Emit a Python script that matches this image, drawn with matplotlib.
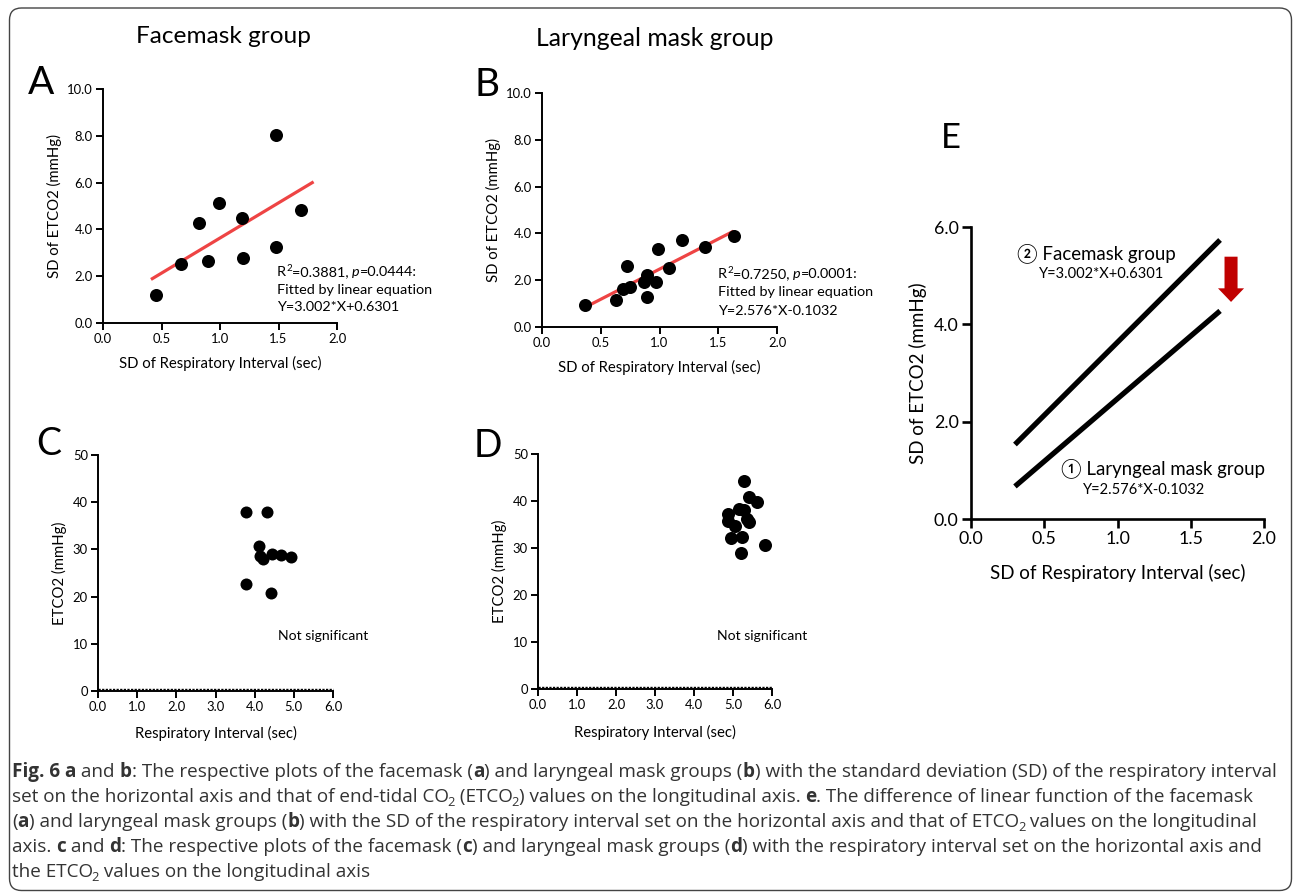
import matplotlib
matplotlib.use("Agg")
import matplotlib.pyplot as plt
from matplotlib.patches import FancyBboxPatch
from matplotlib.transforms import IdentityTransform, offset_copy
from matplotlib.ticker import FormatStrFormatter

# ---------------- data ----------------
# Panel A: facemask group, SD of respiratory interval vs SD of ETCO2
a_x = [0.45, 0.67, 0.82, 0.90, 0.99, 1.19, 1.20, 1.48, 1.48, 1.69]
a_y = [1.21, 2.54, 4.29, 2.64, 5.13, 4.49, 2.76, 8.05, 3.23, 4.83]
a_slope, a_intercept = 3.002, 0.6301
a_fit_range = [0.41, 1.80]

# Panel B: laryngeal mask group
b_x = [0.37, 0.63, 0.69, 0.75, 0.72, 0.87, 0.89, 0.89, 0.97, 0.99, 1.08, 1.19, 1.39, 1.63]
b_y = [0.95, 1.15, 1.62, 1.71, 2.59, 1.94, 2.24, 1.30, 1.94, 3.35, 2.54, 3.70, 3.43, 3.89]
b_slope, b_intercept = 2.576, -0.1032
b_fit_range = [0.37, 1.63]

# Panel C: facemask group, respiratory interval vs ETCO2
c_x = [3.79, 4.32, 4.11, 4.13, 4.20, 4.44, 4.68, 4.94, 3.78, 4.42]
c_y = [38.0, 38.0, 30.8, 28.6, 27.9, 29.1, 28.9, 28.4, 22.6, 20.8]

# Panel D: laryngeal mask group
d_x = [5.29, 5.40, 5.62, 4.88, 5.16, 5.27, 4.86, 5.36, 5.40, 5.06, 4.94, 5.23, 5.82, 5.20]
d_y = [44.2, 40.8, 39.8, 37.2, 38.3, 38.0, 35.8, 36.2, 35.5, 34.6, 32.1, 32.4, 30.7, 29.0]

# Panel E: comparison of fitted lines
e_range = [0.30, 1.70]
arrow_x = 1.775
arrow_y = [5.39, 4.46]

# tick values
sd_xticks = [0.0, 0.5, 1.0, 1.5, 2.0]
ab_yticks = [0.0, 2.0, 4.0, 6.0, 8.0, 10.0]
ri_xticks = [0.0, 1.0, 2.0, 3.0, 4.0, 5.0, 6.0]
cd_yticks = [0, 10, 20, 30, 40, 50]
e_yticks = [0.0, 2.0, 4.0, 6.0]

# ---------------- figure ----------------
W, H = 1293, 892
fig = plt.figure(figsize=(W / 100, H / 100), dpi=100)
FONT = ["Lato", "DejaVu Sans"]
CIRC = ["Lato", "Noto Sans CJK JP", "DejaVu Sans"]
plt.rcParams["font.family"] = FONT


def ax_px(x0, x1, y0, y1):
    return fig.add_axes([x0 / W, (H - y1) / H, (x1 - x0) / W, (y1 - y0) / H])


def style(ax, lw, tlen, lsize):
    for s in ["top", "right"]:
        ax.spines[s].set_visible(False)
    for s in ["left", "bottom"]:
        ax.spines[s].set_linewidth(lw)
    ax.tick_params(direction="out", length=tlen, width=lw, labelsize=lsize, pad=2.5)
    ax.patch.set_alpha(0)


LAB = 10.7
TICK = 9.4
MS = 88
NS = 10.1

# Panel A
axA = ax_px(103, 337, 89, 323)
style(axA, 1.4, 4.8, TICK)
axA.set_xlim(0, 2); axA.set_ylim(0, 10)
axA.set_xticks(sd_xticks); axA.set_yticks(ab_yticks)
axA.xaxis.set_major_formatter(FormatStrFormatter("%.1f"))
axA.yaxis.set_major_formatter(FormatStrFormatter("%.1f"))
fx = a_fit_range
axA.plot(fx, [a_slope * v + a_intercept for v in fx], color="#EE4444", lw=2.3, zorder=2, solid_capstyle="butt")
axA.scatter(a_x, a_y, s=MS, color="black", zorder=3, clip_on=False, linewidths=0)
axA.set_xlabel("SD of Respiratory Interval (sec)", fontsize=LAB, labelpad=8)
axA.set_ylabel("SD of ETCO2 (mmHg)", fontsize=LAB, labelpad=4)

# Panel B
axB = ax_px(542, 777, 93, 327)
style(axB, 1.4, 4.8, TICK)
axB.set_xlim(0, 2); axB.set_ylim(0, 10)
axB.set_xticks(sd_xticks); axB.set_yticks(ab_yticks)
axB.xaxis.set_major_formatter(FormatStrFormatter("%.1f"))
axB.yaxis.set_major_formatter(FormatStrFormatter("%.1f"))
fx = b_fit_range
axB.plot(fx, [b_slope * v + b_intercept for v in fx], color="#EE4444", lw=2.3, zorder=2, solid_capstyle="butt")
axB.scatter(b_x, b_y, s=MS, color="black", zorder=3, clip_on=False, linewidths=0)
axB.set_xlabel("SD of Respiratory Interval (sec)", fontsize=LAB, labelpad=8)
axB.set_ylabel("SD of ETCO2 (mmHg)", fontsize=LAB, labelpad=4)

# Panel C
axC = ax_px(98, 333, 455, 691)
style(axC, 1.4, 4.8, TICK)
axC.set_xlim(0, 6); axC.set_ylim(0, 50)
axC.set_xticks(ri_xticks); axC.set_yticks(cd_yticks)
axC.xaxis.set_major_formatter(FormatStrFormatter("%.1f"))
axC.scatter(c_x, c_y, s=MS * 0.85, color="black", zorder=3, linewidths=0)
axC.plot([0, 6], [0, 0], color="black", lw=1.0, dashes=(1.6, 1.0),
         transform=offset_copy(axC.transData, fig=fig, y=1.8, units="dots"), clip_on=False)
axC.text(4.6, 11.6, "Not significant", fontsize=NS, va="center", ha="left")
axC.set_xlabel("Respiratory Interval (sec)", fontsize=LAB, labelpad=9)
axC.set_ylabel("ETCO2 (mmHg)", fontsize=LAB, labelpad=4)

# Panel D
axD = ax_px(538, 772, 454, 689)
style(axD, 1.4, 4.8, TICK)
axD.set_xlim(0, 6); axD.set_ylim(0, 50)
axD.set_xticks(ri_xticks); axD.set_yticks(cd_yticks)
axD.xaxis.set_major_formatter(FormatStrFormatter("%.1f"))
axD.scatter(d_x, d_y, s=MS, color="black", zorder=3, linewidths=0)
axD.plot([0, 6], [0, 0], color="black", lw=1.0, dashes=(1.6, 1.0),
         transform=offset_copy(axD.transData, fig=fig, y=1.8, units="dots"), clip_on=False)
axD.text(4.6, 11.3, "Not significant", fontsize=NS, va="center", ha="left")
axD.set_xlabel("Respiratory Interval (sec)", fontsize=LAB, labelpad=10)
axD.set_ylabel("ETCO2 (mmHg)", fontsize=LAB, labelpad=4)

# Panel E
axE = ax_px(971, 1264, 227, 519)
style(axE, 1.9, 6.5, 12.8)
axE.set_xlim(0, 2); axE.set_ylim(0, 6)
axE.set_xticks(sd_xticks); axE.set_yticks(e_yticks)
axE.xaxis.set_major_formatter(FormatStrFormatter("%.1f"))
axE.yaxis.set_major_formatter(FormatStrFormatter("%.1f"))
axE.plot(e_range, [a_slope * v + a_intercept for v in e_range], color="black", lw=3.8, solid_capstyle="butt")
axE.plot(e_range, [b_slope * v + b_intercept for v in e_range], color="black", lw=3.8, solid_capstyle="butt")
axE.arrow(arrow_x, arrow_y[0], 0, arrow_y[1] - arrow_y[0], width=0.089, head_width=0.178,
          head_length=0.28, length_includes_head=True, color="#C00000", linewidth=0)
axE.text(0.312, 5.47, "② Facemask group", fontsize=13.4, va="center", ha="left", family=CIRC)
axE.text(0.466, 5.03, "Y=3.002*X+0.6301", fontsize=10.5, va="center", ha="left")
axE.text(0.614, 1.04, "① Laryngeal mask group", fontsize=13.4, va="center", ha="left", family=CIRC)
axE.text(0.767, 0.60, "Y=2.576*X-0.1032", fontsize=10.5, va="center", ha="left")
axE.set_xlabel("SD of Respiratory Interval (sec)", fontsize=13.5, labelpad=12)
axE.set_ylabel("SD of ETCO2 (mmHg)", fontsize=13.5, labelpad=5)

# titles and panel letters
fig.text(223 / W, (H - 43) / H, "Facemask group", fontsize=17.6, ha="center", va="baseline")
fig.text(655 / W, (H - 46) / H, "Laryngeal mask group", fontsize=17.8, ha="center", va="baseline")
for lab, x, y, sz in [("A", 28, 94, 28), ("B", 474, 96, 28), ("C", 36, 455, 27),
                      ("D", 474, 457, 27), ("E", 941, 148, 25)]:
    fig.text(x / W, (H - y) / H, lab, fontsize=sz, ha="left", va="baseline")

# ---------------- rich text helper ----------------
renderer = fig.canvas.get_renderer()


def twidth(s, **kw):
    t = fig.text(0, 0, s + "|", **kw)
    w1 = t.get_window_extent(renderer).width
    t.remove()
    t = fig.text(0, 0, "|", **kw)
    w2 = t.get_window_extent(renderer).width
    t.remove()
    return w1 - w2


def rich(x, y, segs, size, color, family):
    for s, kind in segs:
        kw = dict(family=family, color=color)
        fs = size
        dy = 0.0
        if kind == "b":
            kw["fontweight"] = "bold"
        if kind == "i":
            kw["fontstyle"] = "italic"
        if kind == "sub":
            fs = size * 0.68
            dy = -size * 100 / 72 * 0.22
            x -= 1.5
        if kind == "sup":
            fs = size * 0.68
            dy = size * 100 / 72 * 0.38
        kw["fontsize"] = fs
        fig.text(x / W, (H - y + dy) / H, s, ha="left", va="baseline", **kw)
        x += twidth(s, **kw)


ANN = 10.4
rich(277, 276, [("R", "n"), ("2", "sup"), ("=0.3881, ", "n"), ("p", "i"), ("=0.0444:", "n")], ANN, "black", FONT)
rich(277, 293.5, [("Fitted by linear equation", "n")], ANN, "black", FONT)
rich(277, 311, [("Y=3.002*X+0.6301", "n")], ANN, "black", FONT)
rich(718, 278, [("R", "n"), ("2", "sup"), ("=0.7250, ", "n"), ("p", "i"), ("=0.0001:", "n")], ANN, "black", FONT)
rich(718, 296.5, [("Fitted by linear equation", "n")], ANN, "black", FONT)
rich(718, 315, [("Y=2.576*X-0.1032", "n")], ANN, "black", FONT)

# ---------------- caption ----------------
CAP = ["Open Sans", "DejaVu Sans"]
CS = 13.6
CC = "#333333"
cap_lines = [
    [("Fig. 6 a", "b"), (" and ", "n"), ("b", "b"),
     (": The respective plots of the facemask (", "n"), ("a", "b"),
     (") and laryngeal mask groups (", "n"), ("b", "b"),
     (") with the standard deviation (SD) of the respiratory interval", "n")],
    [("set on the horizontal axis and that of end-tidal CO", "n"), ("2", "sub"), (" (ETCO", "n"),
     ("2", "sub"), (") values on the longitudinal axis. ", "n"), ("e", "b"),
     (". The difference of linear function of the facemask", "n")],
    [("(", "n"), ("a", "b"), (") and laryngeal mask groups (", "n"), ("b", "b"),
     (") with the SD of the respiratory interval set on the horizontal axis and that of ETCO", "n"),
     ("2", "sub"), (" values on the longitudinal", "n")],
    [("axis. ", "n"), ("c", "b"), (" and ", "n"), ("d", "b"),
     (": The respective plots of the facemask (", "n"), ("c", "b"),
     (") and laryngeal mask groups (", "n"), ("d", "b"),
     (") with the respiratory interval set on the horizontal axis and", "n")],
    [("the ETCO", "n"), ("2", "sub"), (" values on the longitudinal axis", "n")],
]
for i, segs in enumerate(cap_lines):
    rich(12, 777 + 25 * i, segs, CS, CC, CAP)

# border
fig.add_artist(FancyBboxPatch((9.5, 1.5), 1282, 882.5, boxstyle="round,pad=0,rounding_size=12",
                              transform=IdentityTransform(), fill=False, edgecolor="#444444", lw=1.0))

fig.savefig("out.png", dpi=100)
